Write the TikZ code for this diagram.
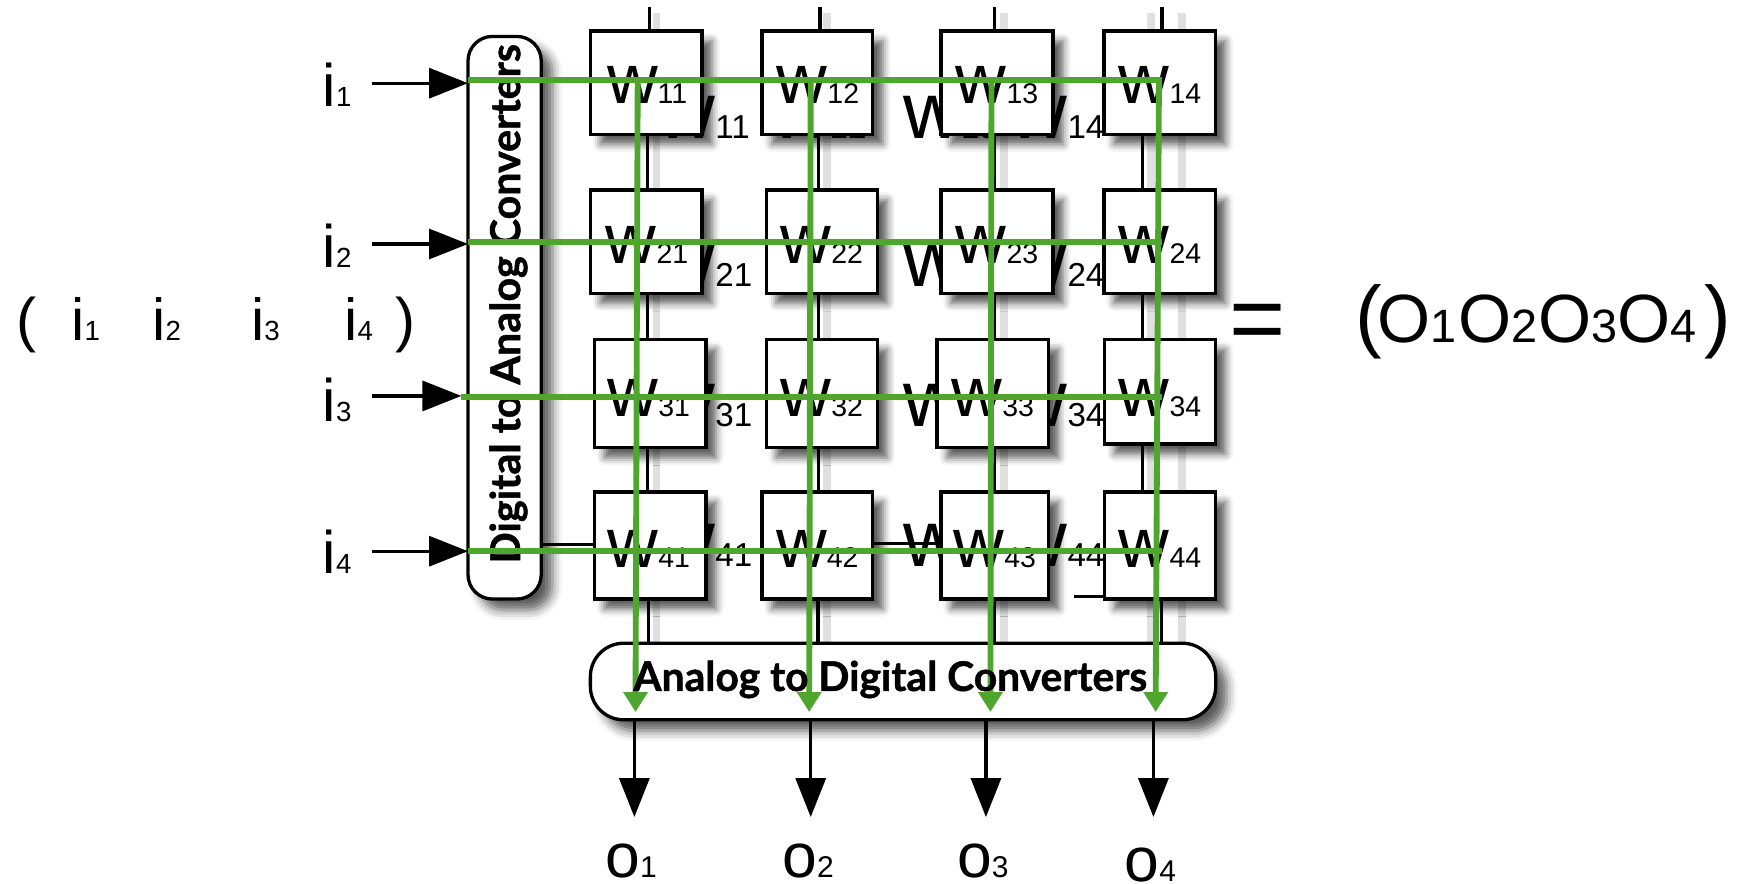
\documentclass[tikz,border=0pt]{standalone}
\usepackage{fontspec}
\setmainfont{Liberation Sans}
\newfontfamily\convfont{Lato}[BoldFeatures={FakeBold=1.2}]
\usetikzlibrary{arrows.meta,shadows.blur}
\definecolor{grn}{RGB}{78,166,46}
\newcommand\fsz[1]{\fontsize{#1}{#1}\selectfont}
\tikzset{
  wcell/.style={draw, line width=0.85pt, fill=white, inner sep=0pt,
    blur shadow={shadow xshift=0.09cm, shadow yshift=-0.09cm, shadow blur radius=0.07cm, shadow opacity=65}},
  pill/.style={draw, line width=0.85pt, fill=white, inner sep=0pt, rounded corners=0.22cm,
    blur shadow={shadow xshift=0.1cm, shadow yshift=-0.1cm, shadow blur radius=0.09cm, shadow opacity=65}},
  wire/.style={line width=0.85pt},
  wshadow/.style={line width=2pt, black!12},
  gline/.style={grn, line width=1.5pt},
  garrow/.style={grn, line width=1.5pt, -{Triangle[length=5.1pt,width=6pt]}},
  barrow/.style={line width=0.85pt, -{Triangle[length=10pt,width=7.7pt]}},
  txt/.style={inner sep=0pt, outer sep=0pt},
}
% box: name cx cy w h
\newcommand\wbox[5]{\node[wcell, minimum width=#4*0.01cm, minimum height=#5*0.01cm] (b#1) at (#2,#3) {};}
% box label: name cx baseline
\newcommand\wlab[3]{\node[txt, anchor=base] (l#1) at (#2,#3) {\fsz{18}w\fsz{7.3}#1};}
% big background label: name x baseline
\newcommand\bigw[3]{\node[txt, anchor=base west] (g#1) at (#2,#3) {\fsz{20.5}w\fsz{8.5}#1};}
\begin{document}
\begin{tikzpicture}[x=0.01cm,y=-0.01cm]
\useasboundingbox (0,0) rectangle (1568,797);

% background large labels
\bigw{11}{593}{125}\bigw{12}{696}{125}\bigw{13}{814.5}{125}\bigw{14}{910.5}{125}
\bigw{21}{593}{258.5}\bigw{22}{696}{258.5}\bigw{23}{814.5}{258.5}\bigw{24}{910.5}{258.5}
\bigw{31}{593}{384.7}\bigw{32}{696}{384.7}\bigw{33}{814.5}{384.7}\bigw{34}{910.5}{384.7}
\bigw{41}{593}{511}\bigw{42}{696}{511}\bigw{43}{814.5}{511}\bigw{44}{910.5}{511}

% wire shadows
\foreach \n/\x in {1/592,2/746,3/905,4/1038,5/1066}{
  \coordinate (sha\n) at (\x,12); \coordinate (shb\n) at (\x,584);
  \draw[wshadow] (sha\n) -- (shb\n);}

% cells
\wbox{11}{582.75}{74.5}{100.5}{93}\wbox{12}{737}{74.5}{100}{93}
\wbox{13}{899}{74.5}{101}{93}\wbox{14}{1045.75}{74.5}{100.5}{93}
\wbox{21}{582.75}{217.9}{100.5}{93.2}\wbox{22}{741}{217.9}{100}{93.2}
\wbox{23}{899}{217.9}{101}{93.2}\wbox{24}{1045.75}{217.9}{100.5}{93.2}
\wbox{31}{586.3}{354.85}{100.6}{97.7}\wbox{32}{741}{354.85}{100}{97.7}
\wbox{33}{895.25}{354.85}{100.5}{97.7}\wbox{34}{1046}{353.2}{100}{94.4}
\wbox{41}{586.3}{491.8}{100.6}{96.4}\wbox{42}{737}{491.8}{100}{96.4}
\wbox{43}{897}{491.8}{97}{96.4}\wbox{44}{1046}{491.8}{100}{96.4}

% converters
\node[pill, minimum width=0.66cm, minimum height=5.07cm] (dac) at (455,286.5) {};
\node[pill, rounded corners=0.3cm, minimum width=5.635cm, minimum height=0.69cm] (adc) at (814.25,614.5) {};

% black wires
\coordinate (s1) at (585.5,6.6); \coordinate (s2) at (739.5,6.6);
\coordinate (s3) at (897,6.6);   \coordinate (s4) at (1047.6,6.6);
\draw[wire] (s1) -- (s1 |- b11.north);
\draw[wire] (s2) -- (s2 |- b12.north);
\draw[wire] (s3) -- (s3 |- b13.north);
\draw[wire] (s4) -- (s4 |- b14.north);
\coordinate (k1) at (584,0); \coordinate (k2) at (738,0);
\coordinate (k3) at (897,0); \coordinate (k4) at (1030,0);
\foreach \c in {1,2,3,4}{
  \draw[wire] (b1\c.south -| k\c) -- (b2\c.north -| k\c);
  \draw[wire] (b2\c.south -| k\c) -- (b3\c.north -| k\c);
  \draw[wire] (b3\c.south -| k\c) -- (b4\c.north -| k\c);}
\coordinate (a1) at (585,0); \coordinate (a2) at (737.6,0);
\coordinate (a3) at (897,0); \coordinate (a4) at (1047,0);
\foreach \c in {1,2,3,4}{\draw[wire] (b4\c.south -| a\c) -- (adc.north -| a\c);}
\coordinate (r4a) at (0,491); \coordinate (r4b) at (0,490);
\draw[wire] (dac.east |- r4a) -- (b41.west |- r4a);
\draw[wire] (b42.east |- r4b) -- (b43.west |- r4b);
\coordinate (q) at (968,538);
\draw[wire] (q) -- (q -| b44.west);

% cell labels
\wlab{11}{583.5}{93}\wlab{12}{737.5}{93}\wlab{13}{899}{93}\wlab{14}{1046}{93}
\wlab{21}{583.5}{237.5}\wlab{22}{741}{237.5}\wlab{23}{899}{237.5}\wlab{24}{1046}{237.5}
\wlab{31}{585}{375.7}\wlab{32}{741}{375.7}\wlab{33}{895.25}{375.7}\wlab{34}{1046}{375.7}
\wlab{41}{585}{512}\wlab{42}{737}{512}\wlab{43}{897}{512}\wlab{44}{1046}{512}

% DAC text
\node[txt, rotate=90] (dactext) at (458.5,274)
  {\resizebox{4.68cm}{!}{\convfont\bfseries Digital to Analog Converters}};

% green paths
\coordinate (gh1s) at (422,72);  \coordinate (gh1e) at (1047.5,72);
\coordinate (gh2s) at (422,218); \coordinate (gh2e) at (1047.5,218);
\coordinate (gh3s) at (416,358); \coordinate (gh3e) at (1047.5,358);
\coordinate (gh4s) at (422,497); \coordinate (gh4e) at (1047.5,497);
\foreach \r in {1,2,3,4}{\draw[gline] (gh\r s) -- (gh\r e);}
\coordinate (gv1s) at (575,72);  \coordinate (gv1e) at (573,642);
\coordinate (gv2s) at (731,72);  \coordinate (gv2e) at (729.6,642);
\coordinate (gv3s) at (894,72);  \coordinate (gv3e) at (893,642);
\coordinate (gv4s) at (1045,72); \coordinate (gv4e) at (1042,642);
\foreach \c in {1,2,3,4}{\draw[garrow] (gv\c s) -- (gv\c e);}

% ADC text
\node[txt, anchor=base] (adctext) at (802.7,623)
  {\resizebox{4.63cm}{!}{\convfont\bfseries Analog to Digital Converters}};

% input arrows and labels
\coordinate (in1) at (335,75);  \coordinate (e1) at (422,75);
\coordinate (in2) at (335,220); \coordinate (e2) at (422,220);
\coordinate (in3) at (335,357); \coordinate (e3) at (416,357);
\coordinate (in4) at (335,497); \coordinate (e4) at (422,497);
\foreach \r in {1,2,3,4}{\draw[barrow] (in\r) -- (e\r);}
\node[txt, anchor=base west] (i1) at (291,96.2) {\fsz{15.4}i\fsz{7.1}1};
\node[txt, anchor=base west] (i2) at (291,241) {\fsz{15.4}i\fsz{7.1}2};
\node[txt, anchor=base west] (i3) at (291,380) {\fsz{15.4}i\fsz{7.1}3};
\node[txt, anchor=base west] (i4) at (291,517) {\fsz{15.4}i\fsz{7.1}4};

% output arrows and labels
\coordinate (t1) at (572,736.7);  \coordinate (t2) at (731,736.7);
\coordinate (t3) at (889,736.7);  \coordinate (t4) at (1040,736.7);
\foreach \c in {1,2,3,4}{\draw[barrow] (adc.south -| t\c) -- (t\c);}
\node[txt, anchor=base west] (o1) at (546,791) {\fsz{16}o\fsz{7.7}1};
\node[txt, anchor=base west] (o2) at (705.5,791) {\fsz{16}o\fsz{7.7}2};
\node[txt, anchor=base west] (o3) at (863,791) {\fsz{16}o\fsz{7.7}3};
\node[txt, anchor=base west] (o4) at (1014,795) {\fsz{16}o\fsz{7.7}4};

% input vector
\node[txt, anchor=base west] (lpar) at (14.6,307) {\fsz{15.4}(};
\node[txt, anchor=base west] (vi1) at (64.5,307) {\fsz{15.2}i\fsz{7.1}1};
\node[txt, anchor=base west] (vi2) at (137.5,307) {\fsz{15.2}i\fsz{7.1}2};
\node[txt, anchor=base west] (vi3) at (226.5,307) {\fsz{15.2}i\fsz{7.1}3};
\node[txt, anchor=base west] (vi4) at (310.5,307) {\fsz{15.2}i\fsz{7.1}4};
\node[txt, anchor=base west] (rpar) at (357,307) {\fsz{15.4})};

% output vector
\node[txt, anchor=base] (eq) at (1134,317) {\fsz{24.7}=};
\node[txt, anchor=base west] (lpar2) at (1222.5,309) {\fsz{20.5}(};
\node[txt, anchor=base west] (vo1) at (1241.8,309) {\fsz{17.5}O\fsz{12}1};
\node[txt, anchor=base west] (vo2) at (1314.8,309) {\fsz{17.5}O\fsz{12}2};
\node[txt, anchor=base west] (vo3) at (1386.8,309) {\fsz{17.5}O\fsz{12}3};
\node[txt, anchor=base west] (vo4) at (1458.8,309) {\fsz{17.5}O\fsz{12}4};
\node[txt, anchor=base west] (rpar2) at (1537,309) {\fsz{20.5})};
\end{tikzpicture}
\end{document}
